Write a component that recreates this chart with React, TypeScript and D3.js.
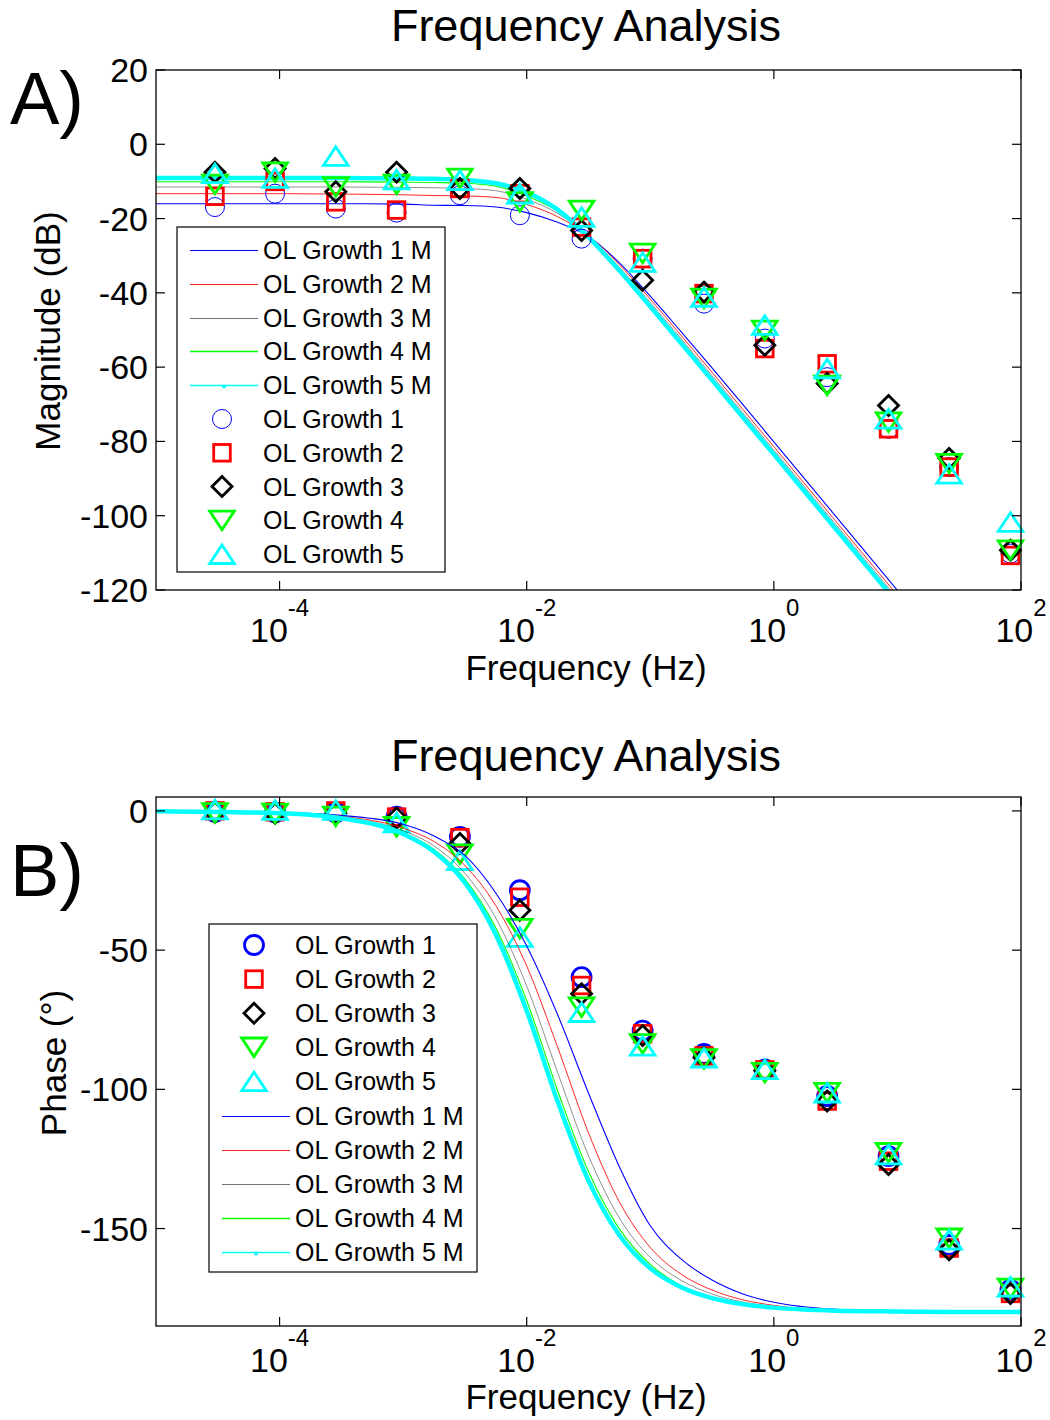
import React from 'react';
import * as d3 from 'd3';

const FONT = "'Liberation Sans', Arial, Helvetica, sans-serif";

// Measured frequencies (Hz)
const FREQ_MEAS = [3.0e-5, 9.2e-5, 2.85e-4, 8.85e-4, 2.88e-3, 8.8e-3, 2.78e-2, 8.67e-2, 0.272, 0.845, 2.7, 8.47, 26.2, 82.2];

// Measured magnitude (dB)
const MAG_G1 = [-16.9, -13.3, -17.3, -18.4, -13.7, -19.1, -25.4, -30.8, -42.9, -52.3, -62.7, -76.6, -86.9, -110.2];
const MAG_G2 = [-14.0, -10.0, -15.5, -17.7, -11.9, -13.3, -22.3, -30.8, -40.2, -55.0, -59.1, -76.6, -86.9, -110.7];
const MAG_G3 = [-7.5, -6.5, -12.8, -7.5, -11.9, -11.9, -23.2, -36.6, -39.8, -54.1, -64.4, -70.3, -84.6, -109.3];
const MAG_G4 = [-10.8, -7.5, -11.5, -10.8, -9.2, -15.5, -17.8, -29.4, -41.5, -50.1, -64.9, -74.8, -86.0, -109.3];
const MAG_G5 = [-7.8, -9.1, -3.2, -9.5, -9.7, -13.3, -19.6, -31.7, -41.1, -48.7, -60.4, -73.9, -88.7, -101.7];

// Measured phase (deg)
const PH_G1 = [-0.3, -0.5, -0.5, -2.1, -9.3, -28.5, -59.7, -78.9, -87.3, -92.8, -102.4, -124.0, -155.9, -172.0];
const PH_G2 = [0.0, -0.3, 0.0, -2.2, -9.6, -31.0, -62.7, -80.0, -88.0, -93.0, -104.2, -125.8, -157.0, -173.3];
const PH_G3 = [-0.5, -0.8, -0.8, -2.5, -11.7, -35.7, -65.7, -80.7, -88.6, -93.3, -104.2, -127.0, -157.6, -173.3];
const PH_G4 = [-0.7, -0.9, -2.0, -5.7, -15.5, -42.3, -70.5, -83.7, -89.1, -94.0, -101.2, -122.8, -153.5, -171.5];
const PH_G5 = [0.5, 0.3, 0.3, -4.2, -17.7, -45.3, -72.3, -84.4, -88.7, -92.8, -101.2, -123.4, -154.0, -170.9];

// Model curve frequencies (Hz)
const FREQ_MODEL = [1e-5, 1e-4, 3.16e-4, 1e-3, 1.78e-3, 3.16e-3, 5.62e-3, 1e-2, 1.78e-2, 3.16e-2, 5.62e-2, 0.1, 0.178, 0.316, 0.562, 1, 3.16, 10, 31.6, 100];

// Model magnitude (dB)
const MAG_M1 = [-16.0, -16.0, -16.0, -16.1, -16.4, -16.5, -16.9, -18.4, -21.0, -24.8, -31.9, -40.9, -50.5, -60.2, -70.1, -80.1, -100.1, -120.1, -140.1, -160.1];
const MAG_M2 = [-13.3, -13.3, -13.4, -13.6, -13.8, -13.9, -14.3, -16.2, -19.5, -24.6, -32.4, -41.7, -51.5, -61.4, -71.4, -81.4, -101.4, -121.4, -141.4, -161.4];
const MAG_M3 = [-11.5, -11.5, -11.5, -11.6, -11.7, -11.9, -12.5, -14.8, -18.6, -24.8, -33.1, -42.6, -52.4, -62.3, -72.3, -82.3, -102.3, -122.3, -142.3, -162.3];
const MAG_M4 = [-10.1, -10.1, -10.1, -10.2, -10.3, -10.5, -11.3, -13.9, -18.0, -25.0, -33.6, -43.2, -53.0, -63.0, -73.0, -83.0, -103.0, -123.0, -143.0, -163.0];
const MAG_M5 = [-9.1, -9.1, -9.1, -9.2, -9.3, -9.6, -10.5, -12.9, -17.6, -25.0, -34.0, -43.7, -53.6, -63.5, -73.5, -83.5, -103.5, -123.5, -143.5, -163.5];

// Model phase (deg)
const PH_M1 = [-0.05, -0.46, -1.6, -4.8, -9.0, -16.0, -29.5, -48.5, -73.2, -101.3, -127.8, -149.0, -161.0, -168.5, -173.5, -176.5, -179.0, -179.7, -180, -180];
const PH_M2 = [-0.06, -0.6, -1.95, -6.2, -11.0, -19.6, -34.0, -55.7, -84.9, -115.6, -140.4, -156.8, -166.4, -172.1, -175.6, -177.6, -179.3, -179.8, -180, -180];
const PH_M3 = [-0.07, -0.7, -2.25, -7.1, -12.6, -22.4, -38.5, -62.9, -94.0, -123.8, -146.2, -160.4, -168.6, -173.5, -176.4, -178.0, -179.4, -179.8, -180, -180];
const PH_M4 = [-0.08, -0.77, -2.45, -7.8, -13.8, -24.5, -42.0, -68.2, -100.5, -129.5, -150.1, -162.9, -170.5, -174.6, -177.0, -178.3, -179.5, -179.8, -180, -180];
const PH_M5 = [-0.08, -0.83, -2.63, -8.3, -14.7, -25.8, -44.4, -71.8, -104.4, -132.8, -152.4, -164.3, -171.1, -175.0, -177.2, -178.4, -179.5, -179.8, -180, -180];

const MEAS_NAMES = ['OL Growth 1', 'OL Growth 2', 'OL Growth 3', 'OL Growth 4', 'OL Growth 5'];
const MODEL_NAMES = ['OL Growth 1 M', 'OL Growth 2 M', 'OL Growth 3 M', 'OL Growth 4 M', 'OL Growth 5 M'];
const COLORS = ['#0000FF', '#FF0000', '#000000', '#00FF00', '#00FFFF'];
const SHAPES = ['circle', 'square', 'diamond', 'tridown', 'triup'];
const LINE_W = [1.1, 1.0, 0.8, 1.1, 4.5];
const LINE_OP = [1, 0.85, 0.55, 1, 1];
const LEG_W = [1, 1, 1, 1.4, 1.6];

const X_TICKS = [1e-4, 1e-2, 1, 100];
const X_TICK_EXP = ['-4', '-2', '0', '2'];
const MAG_TICKS = [20, 0, -20, -40, -60, -80, -100, -120];
const PH_TICKS = [0, -50, -100, -150];

const MAG_MEAS = [MAG_G1, MAG_G2, MAG_G3, MAG_G4, MAG_G5];
const PH_MEAS = [PH_G1, PH_G2, PH_G3, PH_G4, PH_G5];
const MAG_MODEL = [MAG_M1, MAG_M2, MAG_M3, MAG_M4, MAG_M5];
const PH_MODEL = [PH_M1, PH_M2, PH_M3, PH_M4, PH_M5];

function Marker({ shape, cx, cy, color, sw }: { shape: string; cx: number; cy: number; color: string; sw: number }) {
  const common = { fill: 'none', stroke: color, strokeWidth: sw, strokeLinejoin: 'miter' as const };
  if (shape === 'circle') return <circle cx={cx} cy={cy} r={9.5} {...common} />;
  if (shape === 'square') return <rect x={cx - 8.3} y={cy - 8.3} width={16.6} height={16.6} {...common} />;
  if (shape === 'diamond') {
    const h = 10;
    return <polygon points={`${cx},${cy - h} ${cx + h},${cy} ${cx},${cy + h} ${cx - h},${cy}`} {...common} />;
  }
  const w = 12.3, hh = 9.3;
  if (shape === 'tridown')
    return <polygon points={`${cx - w},${cy - hh} ${cx + w},${cy - hh} ${cx},${cy + hh}`} {...common} />;
  return <polygon points={`${cx},${cy - hh} ${cx + w},${cy + hh} ${cx - w},${cy + hh}`} {...common} />;
}

const L = 156, R = 1021;

function Panel({ top, bottom, ydom, yticks, meas, model, markersFirst, circleSW, idp, xlabOff }: any) {
  const x = d3.scaleLog().domain([1e-5, 1e2]).range([L, R]);
  const y = d3.scaleLinear().domain(ydom).range([bottom, top]);
  const line = d3.line<[number, number]>()
    .x((d) => x(d[0]))
    .y((d) => y(d[1]))
    .curve(d3.curveMonotoneX);
  const tl = 9;

  const lines = model.map((vals: number[], i: number) => (
    <path key={'l' + i} d={line(FREQ_MODEL.map((f, k) => [f, vals[k]] as [number, number])) || ''}
      fill="none" stroke={COLORS[i]} strokeWidth={LINE_W[i]} strokeOpacity={LINE_OP[i]}
      clipPath={`url(#clip${idp})`} />
  ));
  const markers = meas.map((vals: number[], i: number) => (
    <g key={'m' + i}>
      {FREQ_MEAS.map((f, k) => (
        <Marker key={k} shape={SHAPES[i]} cx={x(f)} cy={y(vals[k])} color={COLORS[i]} sw={i === 0 ? circleSW : 2.8} />
      ))}
    </g>
  ));

  return (
    <g>
      <defs>
        <clipPath id={`clip${idp}`}>
          <rect x={L} y={top} width={R - L} height={bottom - top} />
        </clipPath>
      </defs>
      <rect x={L} y={top} width={R - L} height={bottom - top} fill="#fff" />
      {markersFirst ? markers : lines}
      {markersFirst ? lines : markers}
      <rect x={L} y={top} width={R - L} height={bottom - top} fill="none" stroke="#000" strokeWidth={1.3} />
      {X_TICKS.map((t, i) => (
        <g key={'xt' + i}>
          <line x1={x(t)} x2={x(t)} y1={bottom} y2={bottom - tl} stroke="#000" strokeWidth={1.2} />
          <line x1={x(t)} x2={x(t)} y1={top} y2={top + tl} stroke="#000" strokeWidth={1.2} />
          <text x={x(t)} y={bottom + xlabOff} textAnchor="middle" fontFamily={FONT} fontSize={34} fill="#000">
            10<tspan dy={-26} fontSize={24}>{X_TICK_EXP[i]}</tspan>
          </text>
        </g>
      ))}
      {yticks.map((t: number, i: number) => (
        <g key={'yt' + i}>
          <line x1={L} x2={L + tl} y1={y(t)} y2={y(t)} stroke="#000" strokeWidth={1.2} />
          <line x1={R} x2={R - tl} y1={y(t)} y2={y(t)} stroke="#000" strokeWidth={1.2} />
          <text x={148} y={y(t) + 12} textAnchor="end" fontFamily={FONT} fontSize={34} fill="#000">{String(t)}</text>
        </g>
      ))}
    </g>
  );
}

function Legend({ x0, y0, w, h, rowY, rowH, lineX1, lineX2, markX, textX, order, circleSW }: any) {
  return (
    <g>
      <rect x={x0} y={y0} width={w} height={h} fill="#fff" stroke="#000" strokeWidth={1.2} />
      {order.map((item: any, r: number) => {
        const cy = rowY + r * rowH;
        const ly = Math.round(cy) + 0.5;
        const i = item.idx;
        return (
          <g key={r}>
            {item.kind === 'line' ? (
              <g>
                <line x1={lineX1} x2={lineX2} y1={ly} y2={ly} stroke={COLORS[i]} strokeWidth={LEG_W[i]} strokeOpacity={LINE_OP[i]} />
                {i === 4 && <circle cx={(lineX1 + lineX2) / 2} cy={ly + 1} r={2} fill={COLORS[i]} />}
              </g>
            ) : (
              <Marker shape={SHAPES[i]} cx={markX} cy={cy} color={COLORS[i]} sw={i === 0 ? circleSW : 2.8} />
            )}
            <text x={textX} y={cy + 9} fontFamily={FONT} fontSize={25} fill="#000">
              {item.kind === 'line' ? MODEL_NAMES[i] : MEAS_NAMES[i]}
            </text>
          </g>
        );
      })}
    </g>
  );
}

export default function App() {
  const linesOrder = [0, 1, 2, 3, 4].map((i) => ({ kind: 'line', idx: i }));
  const markOrder = [0, 1, 2, 3, 4].map((i) => ({ kind: 'mark', idx: i }));
  const cxMid = 586;
  return (
    <svg width={1050} height={1420} style={{ position: 'absolute', left: 0, top: 0, background: '#fff' }}>
      <rect x={0} y={0} width={1050} height={1420} fill="#fff" />
      {/* Panel A */}
      <text x={cxMid} y={41} textAnchor="middle" fontFamily={FONT} fontSize={45} fill="#000">Frequency Analysis</text>
      <Panel top={70} bottom={590} ydom={[-120, 20]} yticks={MAG_TICKS} meas={MAG_MEAS} model={MAG_MODEL}
        markersFirst={false} circleSW={1} idp="a" xlabOff={52} />
      <Legend x0={177} y0={227} w={268} h={345} rowY={250} rowH={33.8} lineX1={190} lineX2={258}
        markX={222} textX={263} order={[...linesOrder, ...markOrder]} circleSW={1} />
      <text x={cxMid} y={680} textAnchor="middle" fontFamily={FONT} fontSize={35} fill="#000">Frequency (Hz)</text>
      <text transform={`translate(60,331) rotate(-90)`} textAnchor="middle" fontFamily={FONT} fontSize={35} fill="#000">Magnitude (dB)</text>
      <text x={10} y={124} fontFamily={FONT} fontSize={74} fill="#000">A)</text>

      {/* Panel B */}
      <text x={cxMid} y={771} textAnchor="middle" fontFamily={FONT} fontSize={45} fill="#000">Frequency Analysis</text>
      <Panel top={797} bottom={1326} ydom={[-185, 5]} yticks={PH_TICKS} meas={PH_MEAS} model={PH_MODEL}
        markersFirst={true} circleSW={2.8} idp="b" xlabOff={46} />
      <Legend x0={209} y0={924} w={268} h={348} rowY={945} rowH={34.1} lineX1={222} lineX2={290}
        markX={254} textX={295} order={[...markOrder, ...linesOrder]} circleSW={2.8} />
      <text x={cxMid} y={1409} textAnchor="middle" fontFamily={FONT} fontSize={35} fill="#000">Frequency (Hz)</text>
      <text transform={`translate(66,1063) rotate(-90)`} textAnchor="middle" fontFamily={FONT} fontSize={35} fill="#000">Phase (°)</text>
      <text x={10} y={896} fontFamily={FONT} fontSize={74} fill="#000">B)</text>
    </svg>
  );
}
